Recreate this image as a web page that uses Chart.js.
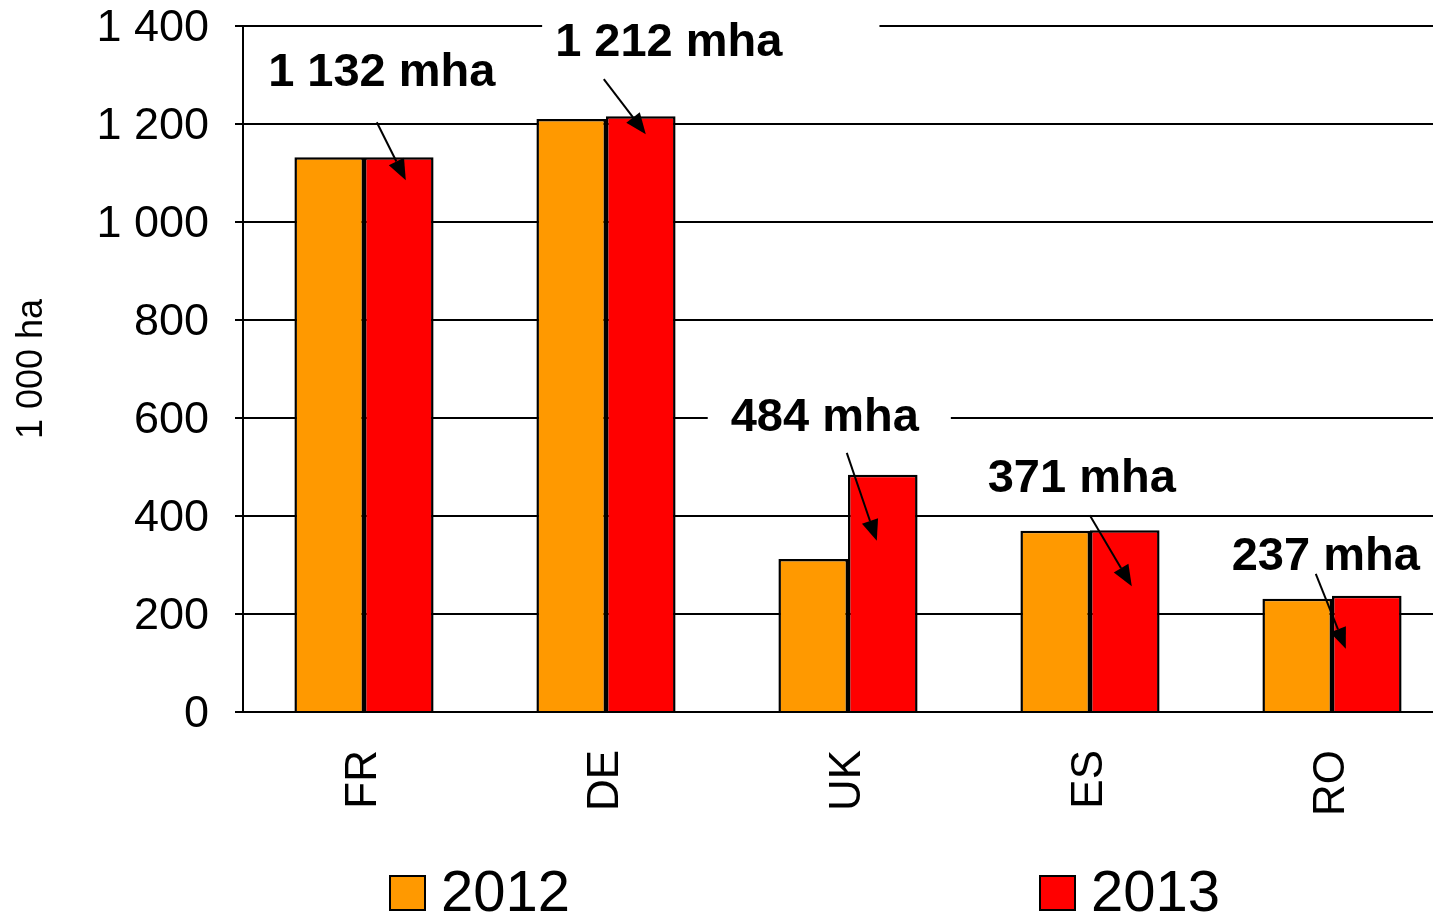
<!DOCTYPE html>
<html>
<head>
<meta charset="utf-8">
<script src="https://cdn.jsdelivr.net/npm/chart.js@4.4.1/dist/chart.umd.min.js"></script>
<style>
  html, body { margin: 0; padding: 0; background: #fff; }
  #wrap { width: 1433px; height: 917px; position: relative; }
</style>
</head>
<body>
<div id="wrap"><canvas id="c" width="1433" height="917"></canvas></div>
<script>
// ---- Data ----
const categories = ['FR', 'DE', 'UK', 'ES', 'RO'];
const seriesNames = ['2012', '2013'];
const values2012 = [1132, 1210, 312, 370, 231];
const values2013 = [1132, 1216, 484, 371, 237];
const annotationTexts = ['1 132 mha', '1 212 mha', '484 mha', '371 mha', '237 mha'];
const yTickLabels = ['0', '200', '400', '600', '800', '1 000', '1 200', '1 400'];
const yTitle = '1 000 ha';

// ---- Layout / style (not data) ----
const FONT = "'Liberation Sans', Arial, sans-serif";
const colors = ['#FF9900', '#FF0000'];
const EXTEND_RIGHT = 20; // plot area continues past the right edge of the picture
// offsets relative to top-centre of the 2013 bar: label centre, arrow start, arrow tip, white box padding [left,right,top,bottom]
const annoLayout = [
  { lx: -17, ly: -86, sx: -22, sy: -35, tx: 7,   ty: 23, box: [12, 12, 12, 12] },
  { lx: 28,  ly: -75, sx: -37, sy: -37, tx: 5,   ty: 18, box: [13, 97, 30, 12] },
  { lx: -58, ly: -59, sx: -36, sy: -22, tx: -6,  ty: 66, box: [23, 32, 14, 12] },
  { lx: -43, ly: -53, sx: -35, sy: -15, tx: 7,   ty: 56, box: [10, 10, 8, 8] },
  { lx: -41, ly: -41, sx: -51, sy: -22, tx: -21, ty: 53, box: [6, 6, 6, 4] }
];

const extendPlugin = {
  id: 'extendRight',
  afterLayout(chart) {
    const x = chart.scales.x;
    chart.chartArea.right += EXTEND_RIGHT;
    chart.chartArea.width += EXTEND_RIGHT;
    x.right += EXTEND_RIGHT;
    x.width += EXTEND_RIGHT;
    x.configure();
  }
};

const annotationPlugin = {
  id: 'annos',
  afterDatasetsDraw(chart) {
    const ctx = chart.ctx;
    const meta = chart.getDatasetMeta(1);
    ctx.save();
    ctx.font = 'bold 47px ' + FONT;
    ctx.textAlign = 'center';
    ctx.textBaseline = 'middle';
    meta.data.forEach((bar, i) => {
      const L = annoLayout[i];
      const lx = bar.x + L.lx, ly = bar.y + L.ly;
      const w = ctx.measureText(annotationTexts[i]).width;
      ctx.fillStyle = '#fff';
      ctx.fillRect(lx - w / 2 - L.box[0], ly - 22 - L.box[2], w + L.box[0] + L.box[1], 44 + L.box[2] + L.box[3]);
      ctx.fillStyle = '#000';
      ctx.fillText(annotationTexts[i], lx, ly + 2);
      const sx = bar.x + L.sx, sy = bar.y + L.sy;
      const tx = bar.x + L.tx, ty = bar.y + L.ty;
      const ang = Math.atan2(ty - sy, tx - sx);
      const hl = 21, hw = 8.5;
      const bx = tx - hl * Math.cos(ang), by = ty - hl * Math.sin(ang);
      ctx.strokeStyle = '#000';
      ctx.lineWidth = 2;
      ctx.beginPath();
      ctx.moveTo(sx, sy);
      ctx.lineTo(bx, by);
      ctx.stroke();
      ctx.beginPath();
      ctx.moveTo(tx, ty);
      ctx.lineTo(bx + hw * Math.sin(ang), by - hw * Math.cos(ang));
      ctx.lineTo(bx - hw * Math.sin(ang), by + hw * Math.cos(ang));
      ctx.closePath();
      ctx.fill();
    });
    ctx.restore();
  }
};

const legendPlugin = {
  id: 'customLegend',
  afterDraw(chart) {
    const ctx = chart.ctx;
    const area = chart.chartArea;
    const xs = [area.left + 147, area.left + 797];
    const yc = 893;
    ctx.save();
    ctx.font = '58px ' + FONT;
    ctx.textBaseline = 'middle';
    ctx.textAlign = 'left';
    chart.data.datasets.forEach((ds, i) => {
      ctx.fillStyle = ds.backgroundColor;
      ctx.fillRect(xs[i], yc - 17, 35, 34);
      ctx.strokeStyle = '#000';
      ctx.lineWidth = 2;
      ctx.strokeRect(xs[i], yc - 17, 35, 34);
      ctx.fillStyle = '#000';
      ctx.fillText(ds.label, xs[i] + 51, yc + 2);
    });
    ctx.restore();
  }
};

new Chart(document.getElementById('c'), {
  type: 'bar',
  data: {
    labels: categories,
    datasets: [
      { label: seriesNames[0], data: values2012, backgroundColor: colors[0], borderColor: '#000', borderWidth: 2.5 },
      { label: seriesNames[1], data: values2013, backgroundColor: colors[1], borderColor: '#000', borderWidth: 2.5 }
    ]
  },
  options: {
    responsive: false,
    animation: false,
    devicePixelRatio: 1,
    layout: { padding: { top: 26, right: 0, left: 0, bottom: 0 } },
    plugins: { legend: { display: false }, tooltip: { enabled: false } },
    datasets: { bar: { categoryPercentage: 0.575, barPercentage: 1.0 } },
    scales: {
      x: {
        grid: { display: false },
        border: { display: true, color: '#000', width: 2 },
        ticks: { color: '#000', font: { family: FONT, size: 44 }, minRotation: 90, maxRotation: 90, padding: 30 },
        afterFit(s) { s.height = 205; s.paddingLeft = 0; s.paddingRight = 0; }
      },
      y: {
        min: 0, max: 1400,
        ticks: {
          stepSize: 200, color: '#000', padding: 26, labelOffset: 3,
          font: { family: FONT, size: 45 },
          callback: (v) => yTickLabels[Math.round(v / 200)]
        },
        grid: { color: '#000', lineWidth: 2, tickLength: 8 },
        border: { display: true, color: '#000', width: 2 },
        title: { display: true, text: yTitle, color: '#000', font: { family: FONT, size: 36 }, padding: { top: 10, bottom: 0 } },
        afterFit(s) { s.width = 243; s.paddingTop = 0; s.paddingBottom = 0; }
      }
    }
  },
  plugins: [extendPlugin, annotationPlugin, legendPlugin]
});
</script>
</body>
</html>
